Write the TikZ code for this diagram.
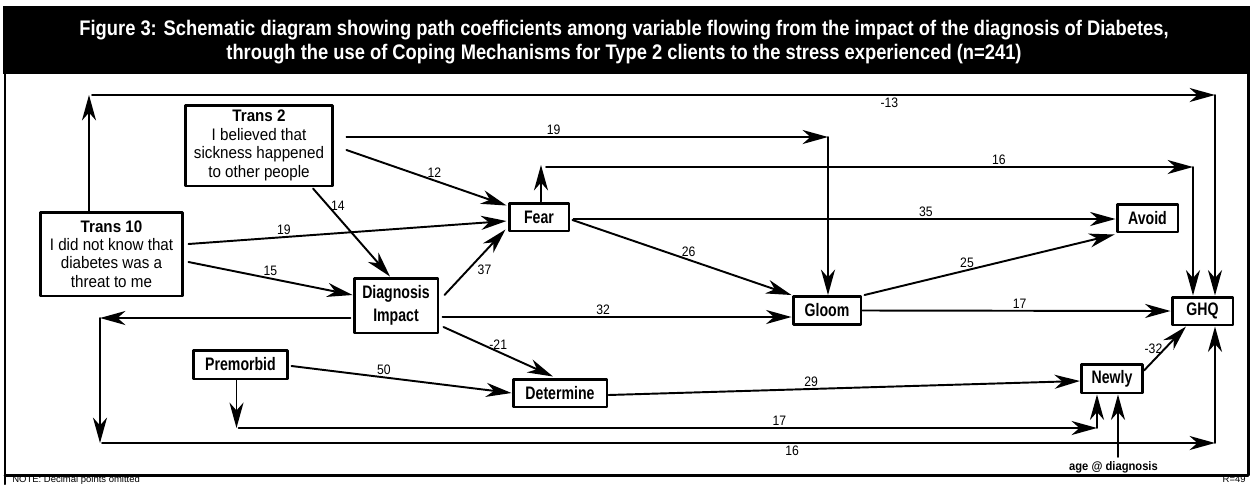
\documentclass[tikz,border=0pt]{standalone}
\usepackage{fontspec}
\setmainfont{Liberation Sans}
\newfontfamily\boxfont{Liberation Sans}[FakeStretch=0.78]
\newfontfamily\transfont{Liberation Sans}[FakeStretch=0.91]
\newfontfamily\numfont{Liberation Sans}[FakeStretch=0.89]
\newfontfamily\titlefont{Liberation Sans}[FakeStretch=0.87]
\usetikzlibrary{arrows.meta,calc}

\begin{document}
\begin{tikzpicture}[x=0.02cm,y=-0.02cm,>={Stealth[length=14.5pt,width=8pt,inset=4.5pt]},line cap=round,line join=round,
  var/.style={draw,line width=1.7pt,inner sep=0pt,align=center,font=\boxfont\bfseries\fontsize{10.3}{13}\selectfont},
  trans/.style={draw,line width=1.7pt,inner sep=0pt,align=center,font=\transfont\fontsize{9.5}{10.5}\selectfont},
  num/.style={inner sep=1pt,font=\numfont\fontsize{7.8}{8}\selectfont},
  foot/.style={inner sep=0pt,anchor=base,font=\rmfamily\fontsize{5.4}{6}\selectfont},
  link/.style={->,line width=1.1pt}]
\useasboundingbox (0,0) rectangle (1252,484);
% frame and title band
\fill (3,6) rectangle (1250,74);
\draw[line width=1.7pt] (5,74) -- (5,484);
\draw[line width=1.7pt] (1248,74) -- (1248,475);
\draw[line width=1.7pt] (5,475) -- (1248,475);
\node[text=white,align=center,font=\titlefont\bfseries\fontsize{12}{13.6}\selectfont] (title) at (624,42)
  {Figure 3: Schematic diagram showing path coefficients among variable flowing from the impact of the diagnosis of Diabetes,\\
   through the use of Coping Mechanisms for Type 2 clients to the stress experienced (n=241)};
\node[foot,anchor=base west] (note) at (12,482) {NOTE: Decimal points omitted};
\node[foot,anchor=base east] (rval) at (1246,482) {R=49};

% variables
\node[trans,minimum width=2.96cm,minimum height=1.62cm] (t2) at (259,145.5) {\textbf{Trans 2}\\I believed that\\sickness happened\\to other people};
\node[trans,minimum width=2.86cm,minimum height=1.68cm] (t10) at (111.5,254) {\textbf{Trans 10}\\I did not know that\\diabetes was a\\threat to me};
\node[var,minimum width=1.2cm,minimum height=0.56cm] (fear) at (539,217) {Fear};
\node[var,minimum width=1.68cm,minimum height=1.1cm] (diag) at (396,305.5) {Diagnosis\\Impact};
\node[var,minimum width=1.36cm,minimum height=0.56cm] (gloom) at (827,310.5) {Gloom};
\node[var,minimum width=1.22cm,minimum height=0.56cm] (ghq) at (1202.5,311) {GHQ};
\node[var,minimum width=1.22cm,minimum height=0.56cm] (avoid) at (1147.5,218) {Avoid};
\node[var,minimum width=1.9cm,minimum height=0.58cm] (prem) at (240.5,364.5) {Premorbid};
\node[var,minimum width=1.88cm,minimum height=0.56cm] (det) at (560,393) {Determine};
\node[var,minimum width=1.22cm,minimum height=0.58cm] (newly) at (1112,378.5) {Newly};
\node[inner sep=0pt,font=\transfont\bfseries\fontsize{7}{8}\selectfont] (age) at (1113.5,467) {age @ diagnosis};

% trans 10 over the top to GHQ
\coordinate (tl) at (89,95);
\coordinate (tr) at (1215,95);
\draw[link] ($(t10.north)+(-22.5,0)$) -- (tl);
\draw[link] ($(tl)+(3,0)$) -- node[num,below,pos=0.71]{-13} (tr);
\draw[link] (tr) -- (tr |- ghq.north);

% trans 2
\coordinate (g1) at (828,137);
\draw[link] ($(t2.east)+(12,-8.5)$) -- node[num,above,pos=0.43]{19} (g1);
\draw[link] (g1) -- (g1 |- gloom.north);
\draw[link] ($(t2.east)+(12,4.5)$) -- node[num,above,pos=0.55]{12} ($(fear.north west)+(-1,4)$);
\draw[link] ($(t2.south)+(54,1)$) -- node[num,right,pos=0.2]{14} ($(diag.north)+(-6,0)$);

% trans 10
\draw[link] ($(t10.east)+(4,-10)$) -- node[num,above,pos=0.3]{19} ($(fear.west)+(-1,4)$);
\draw[link] ($(t10.east)+(4,8)$) -- node[num,above,pos=0.5]{15} ($(diag.west)+(0,-10.5)$);
\draw[link] ($(diag.east)+(5,-10.5)$) -- node[num,pos=0.5,anchor=north west]{37} ($(fear.south west)+(-2,-3)$);

% fear
\coordinate (f1) at (541,165);
\coordinate (f2) at (1193,167);
\draw[link] ($(fear.north)+(2,0)$) -- (f1);
\draw[link] ($(f1)+(5,2)$) -- node[num,above,pos=0.7]{16} (f2);
\draw[link] (f2) -- (f2 |- ghq.north);
\draw[link] ($(fear.east)+(3,2)$) -- node[num,above,pos=0.65]{35} ($(avoid.west)+(0,1)$);
\draw[link] ($(fear.east)+(2,3)$) -- node[num,above,pos=0.53]{26} (gloom.north west);

% gloom
\draw[link] ($(gloom.north east)+(2,0)$) -- node[num,above,pos=0.41]{25} ($(avoid.south west)+(-1,1)$);
\draw[link] ($(diag.east)+(3,11.5)$) -- node[num,above,pos=0.46]{32} ($(gloom.west)+(0,6.5)$);
\draw[link] (gloom.east) -- node[num,above,pos=0.51]{17} (ghq.west);

% diagnosis round the bottom to GHQ
\coordinate (d1) at (100,318);
\coordinate (d2) at (100,443);
\coordinate (d3) at (1215,443);
\draw[link] ($(diag.west)+(-2,12.5)$) -- (d1);
\draw[link] (d1) -- (d2);
\draw[link] ($(d2)+(2,0)$) -- node[num,below,pos=0.62]{16} (d3);
\draw[link] (d3) -- (d3 |- ghq.south);
\draw[link] ($(diag.east)+(4,21.5)$) -- node[num,above,pos=0.5]{-21} ($(det.north)+(-7,-1)$);

% premorbid
\coordinate (p1) at (236.5,428);
\coordinate (p2) at (1097,428);
\draw[link] ($(prem.east)+(2,1.5)$) -- node[num,above,pos=0.42]{50} (det.west);
\draw[link] ($(prem.south)+(-4,0)$) -- (p1);
\draw[link] ($(p1)+(2,0)$) -- node[num,above,pos=0.63]{17} (p2);
\draw[link] (p2) -- (p2 |- newly.south);

% newly
\draw[link] ($(det.east)+(0,2)$) -- node[num,above,pos=0.43]{29} ($(newly.west)+(0,2.5)$);
\draw[link] ($(newly.north east)+(0,8)$) -- node[num,left,pos=0.5]{-32} ($(ghq.south west)+(15.5,0)$);
\coordinate (a1) at (1118,457);
\draw[link] (a1) -- (a1 |- newly.south);
\end{tikzpicture}
\end{document}
